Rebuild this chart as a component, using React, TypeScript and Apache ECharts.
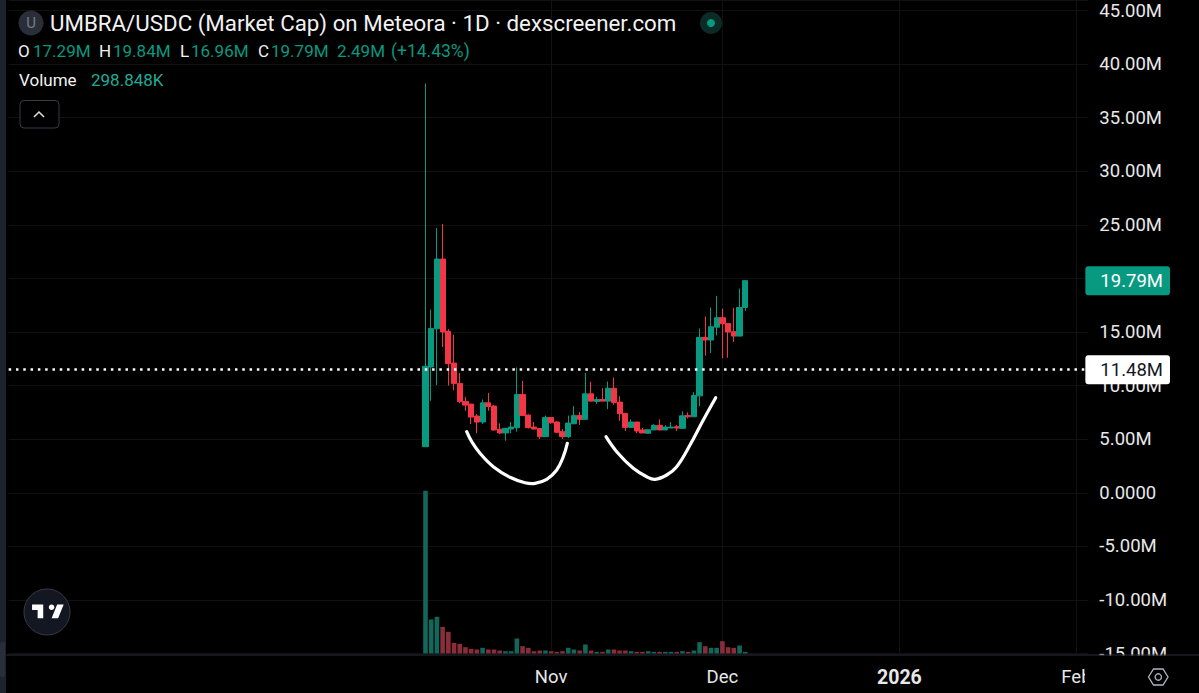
import React, { useEffect, useRef } from "react";
import * as echarts from "echarts";

const FONT = "Roboto, sans-serif";
const UP = "#089981";
const DOWN = "#F23645";
const UP_VOL = "#13665A";
const DOWN_VOL = "#8A2D3A";

const opens = [4.3,11.74,15.3,21.81,15.06,12.1,10.2,8.52,8.27,7.16,6.6,8.39,8.09,5.92,5.58,5.95,6.07,9.17,7.25,6.13,6.0,5.23,7.03,6.6,5.7,5.23,6.44,7.22,6.85,9.23,8.52,8.7,8.55,9.75,8.46,7.4,6.1,6.6,5.86,5.55,5.86,6.29,5.86,6.04,6.16,6.01,7.22,7.09,9.04,14.5,14.25,15.45,16.33,15.8,15.03,14.62,17.29];
const closes = [11.8,15.33,21.81,15.0,12.05,10.2,8.52,8.18,7.06,6.6,8.39,8.05,5.86,5.58,6.01,6.13,9.17,7.22,6.07,5.95,5.23,7.03,6.53,5.64,5.23,6.5,7.22,6.85,9.23,8.55,8.7,8.55,9.75,8.43,7.37,6.1,6.6,5.76,5.58,5.88,6.29,5.86,6.13,6.13,6.04,7.18,7.09,9.08,14.5,14.25,15.49,16.33,15.77,15.0,14.62,17.29,19.79];
const lows = [4.3,8.58,10.04,13.6,10.0,9.57,8.34,7.65,6.41,5.55,6.41,7.65,5.79,5.5,4.86,5.55,5.7,7.2,6.0,5.9,5.02,5.2,6.45,5.6,5.02,5.1,6.4,6.32,6.85,8.5,8.27,8.55,7.8,8.2,6.7,5.76,6.1,5.55,5.58,5.5,5.86,5.84,5.86,6.04,5.76,6.0,6.94,7.09,8.09,12.8,13.04,14.68,12.55,12.6,14.06,14.6,16.96];
const highs = [38.2,17.1,24.7,25.07,15.27,14.75,11.18,8.95,8.3,7.34,8.7,9.32,8.2,6.48,6.05,6.6,11.68,10.44,7.3,6.6,6.05,7.2,7.03,6.7,5.95,7.2,8.09,7.55,11.18,10.35,8.95,9.75,10.38,10.75,9.0,7.4,6.85,6.6,6.04,5.9,6.4,6.85,6.32,6.6,6.32,7.6,7.5,9.39,15.33,16.45,17.3,18.37,17.19,15.8,17.25,19.05,19.84];
const volumes = [29.3,6.12,6.6,4.8,3.9,1.92,1.74,1.14,0.84,0.72,1.02,0.72,0.72,0.54,0.42,0.42,2.7,1.32,1.02,0.42,0.54,0.54,0.42,0.3,0.42,1.02,0.72,0.54,1.62,0.54,0.3,0.3,0.72,0.72,0.54,0.54,0.42,0.3,0.3,0.42,0.3,0.3,0.3,0.3,0.3,0.42,0.3,0.54,2.04,1.32,1.02,1.02,2.22,1.14,1.02,1.44,0.299];

const LEAD = 73;
const TOTAL = 190;
const categories = Array.from({ length: TOTAL }, (_, i) =>
  new Date(Date.UTC(2025, 9, 10 + i - LEAD)).toISOString().slice(0, 10)
);
const monthLabels: Record<string, string> = {
  "2025-11-01": "Nov",
  "2025-12-01": "Dec",
  "2026-01-01": "{b|2026}",
  "2026-02-01": "Feb",
};

const lastClose = 19.79;
const lineLevel = 11.48;

const ohlcRow = [
  { label: "O", labelX: 18, value: "17.29M", valueX: 33 },
  { label: "H", labelX: 99, value: "19.84M", valueX: 113 },
  { label: "L", labelX: 180, value: "16.96M", valueX: 191 },
  { label: "C", labelX: 258, value: "19.79M", valueX: 271 },
];

const leftCurve = [[466.7,431.7],[471.7,441.7],[480,453.3],[493.3,466.7],[510,477.3],[525,482.7],[535,483.3],[546.7,479.3],[556.7,470],[563.3,456.7],[567.3,443.3]];
const rightCurve = [[606,436.7],[616.7,451.7],[633.3,468.3],[646.7,476.7],[655,479.3],[666.7,475],[676.7,466.7],[690,445],[703.3,420],[715.7,397.7]];

echarts.graphic.registerShape(
  "tvlogo",
  echarts.graphic.extendPath(
    "M14 6 L2 6 L2 12 L8 12 L8 21 L14 21 Z M30 21 L23 21 L29 6 L36 6 Z M23 12 C24.66 12 26 10.66 26 9 C26 7.34 24.66 6 23 6 C21.34 6 20 7.34 20 9 C20 10.66 21.34 12 23 12 Z",
    {}
  )
);

const pad = <T,>(arr: T[]) => [...Array(LEAD).fill("-"), ...arr];

export default function App() {
  const ref = useRef<HTMLDivElement>(null);
  useEffect(() => {
    const chart = echarts.init(ref.current!, undefined, { renderer: "svg" });
    const tag = (value: number, bg: string, color: string) => ({
      yAxis: value,
      label: {
        show: true,
        position: "end",
        distance: 0,
        offset: [-2.5, 0],
        formatter: value.toFixed(2) + "M",
        color,
        backgroundColor: bg,
        borderRadius: 3,
        padding: [5, 7, 5, 15],
        fontSize: 18.5,
        lineHeight: 19,
        fontFamily: FONT,
      },
    });
    const txt = (x: number, y: number, text: string, fill: string, size = 17) => ({
      type: "text",
      z: 61,
      style: { x, y, text, fill, font: `${size}px ${FONT}`, verticalAlign: "middle" },
    });
    chart.setOption({
      animation: false,
      backgroundColor: "#000000",
      grid: { left: 8.67, width: 1079.19, top: 0, height: 653.5, containLabel: false },
      xAxis: {
        type: "category",
        data: categories,
        boundaryGap: false,
        axisLine: { show: false },
        axisTick: { show: false },
        axisLabel: {
          interval: 0,
          margin: 14,
          color: "#E8E8E8",
          fontSize: 18.5,
          fontFamily: FONT,
          formatter: (v: string) => monthLabels[v] || "",
          rich: { b: { fontWeight: "bold", fontSize: 19.5, color: "#E8E8E8", fontFamily: FONT } },
        },
        splitLine: {
          show: true,
          interval: (_: number, v: string) => !!monthLabels[v],
          lineStyle: { color: "#111111", width: 1 },
        },
      },
      yAxis: [
        {
          type: "value",
          position: "right",
          min: -15,
          max: 45.98,
          interval: 5,
          axisLine: { show: false },
          axisTick: { show: false },
          splitLine: { show: true, lineStyle: { color: "#111111", width: 1 } },
          axisLabel: {
            margin: 11.5,
            align: "left",
            color: "#E8E8E8",
            fontSize: 18.5,
            fontFamily: FONT,
            showMaxLabel: true,
            formatter: (v: number) => {
              if (Math.abs(v % 5) > 1e-6) return "";
              return v === 0 ? "0.0000" : v.toFixed(2) + "M";
            },
          },
        },
        { type: "value", position: "left", min: 0, max: 117.6, show: false, splitLine: { show: false } },
      ],
      series: [
        {
          type: "bar",
          yAxisIndex: 1,
          barWidth: 4.6,
          data: pad(
            volumes.map((v, i) => ({
              value: v,
              itemStyle: { color: closes[i] >= opens[i] ? UP_VOL : DOWN_VOL },
            }))
          ),
        },
        {
          type: "candlestick",
          yAxisIndex: 0,
          barWidth: 5.7,
          clip: false,
          itemStyle: { color: UP, color0: DOWN, borderColor: UP, borderColor0: DOWN, borderWidth: 1 },
          data: pad(opens.map((o, i) => [o, closes[i], lows[i], highs[i]])),
          markLine: {
            silent: true,
            symbol: "none",
            animation: false,
            data: [
              { ...tag(lineLevel, "#FFFFFF", "#131722"), lineStyle: { color: "#FFFFFF", width: 2.5, type: [2.5, 4.8] } },
              { ...tag(lastClose, UP, "#FFFFFF"), lineStyle: { color: "rgba(0,0,0,0)", width: 1 } },
            ],
          },
        },
      ],
      graphic: {
        elements: [
          { type: "rect", z: 50, shape: { x: 1085, y: 655.5, width: 114, height: 38 }, style: { fill: "#000000" } },
          { type: "line", z: 55, shape: { x1: 0, y1: 655, x2: 1199, y2: 655 }, style: { stroke: "#2A2E39", lineWidth: 1 } },
          { type: "rect", z: 60, shape: { x: 0, y: 0, width: 6, height: 693 }, style: { fill: "#1E222D" } },
          { type: "rect", z: 61, shape: { x: 0, y: 642, width: 5, height: 35, r: 2 }, style: { fill: "#2A2E39" } },

          { type: "circle", z: 60, shape: { cx: 31, cy: 23, r: 12.5 }, style: { fill: "#2A2E39" } },
          { type: "text", z: 61, style: { x: 31, y: 23, text: "U", fill: "#787B86", font: `15px ${FONT}`, align: "center", verticalAlign: "middle" } },
          txt(50, 23, "UMBRA/USDC (Market Cap) on Meteora · 1D · dexscreener.com", "#F2F2F2", 22.3),
          { type: "circle", z: 60, shape: { cx: 711, cy: 23, r: 11 }, style: { fill: "#0B2B26" } },
          { type: "circle", z: 61, shape: { cx: 711, cy: 23, r: 4 }, style: { fill: UP } },
          ...ohlcRow.flatMap((p) => [txt(p.labelX, 51, p.label, "#F2F2F2"), txt(p.valueX, 51, p.value, UP)]),
          txt(337, 51, "2.49M", UP),
          txt(391, 51, "(+14.43%)", UP, 17.5),
          txt(19, 80, "Volume", "#F2F2F2"),
          txt(91, 80, "298.848K", "#22AB94"),
          { type: "rect", z: 60, shape: { x: 20, y: 100.5, width: 39, height: 27.5, r: 4 }, style: { fill: "#000000", stroke: "#363A45", lineWidth: 1 } },
          { type: "polyline", z: 61, shape: { points: [[34, 117], [39, 112], [44, 117]] }, style: { fill: "none", stroke: "#E0E0E0", lineWidth: 1.5 } },

          { type: "polyline", z: 40, shape: { points: leftCurve, smooth: 0.4 }, style: { fill: "none", stroke: "#FFFFFF", lineWidth: 3.2, lineCap: "round" } },
          { type: "polyline", z: 40, shape: { points: rightCurve, smooth: 0.4 }, style: { fill: "none", stroke: "#FFFFFF", lineWidth: 3.2, lineCap: "round" } },

          { type: "circle", z: 60, shape: { cx: 47, cy: 612, r: 23 }, style: { fill: "#131722", stroke: "#363A45", lineWidth: 1 } },
          { type: "tvlogo", z: 61, x: 30.2, y: 598.8, scaleX: 0.93, scaleY: 0.93, style: { fill: "#FFFFFF" } },

          { type: "polygon", z: 60, shape: { points: [[1148.5, 677], [1153.5, 669], [1163, 669], [1168, 677], [1163, 685], [1153.5, 685]] }, style: { fill: "none", stroke: "#B2B5BE", lineWidth: 1.3 } },
          { type: "circle", z: 60, shape: { cx: 1158.3, cy: 677, r: 3.2 }, style: { fill: "none", stroke: "#B2B5BE", lineWidth: 1.3 } },
        ],
      },
    });
    return () => chart.dispose();
  }, []);
  return (
    <div
      ref={ref}
      style={{ position: "fixed", left: 0, top: 0, width: 1199, height: 693, background: "#000" }}
    />
  );
}
